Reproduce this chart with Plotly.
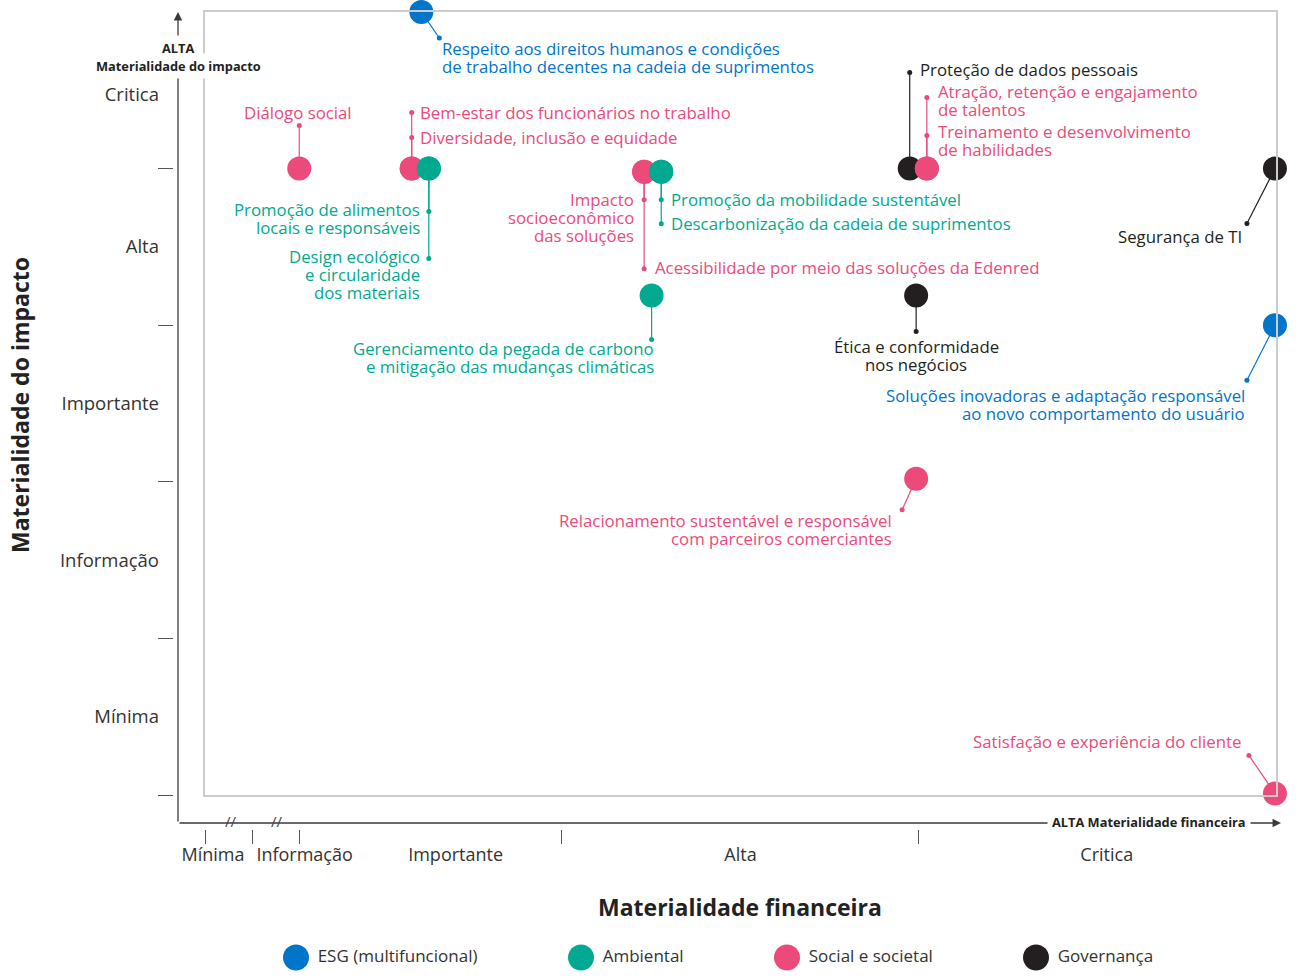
import plotly.graph_objects as go

# ---------------- data ----------------
topics = [
    "Respeito aos direitos humanos e condições<br>de trabalho decentes na cadeia de suprimentos",
    "Diálogo social",
    "Bem-estar dos funcionários no trabalho",
    "Diversidade, inclusão e equidade",
    "Promoção de alimentos<br>locais e responsáveis",
    "Design ecológico<br>e circularidade<br>dos materiais",
    "Impacto<br>socioeconômico<br>das soluções",
    "Acessibilidade por meio das soluções da Edenred",
    "Promoção da mobilidade sustentável",
    "Descarbonização da cadeia de suprimentos",
    "Gerenciamento da pegada de carbono<br>e mitigação das mudanças climáticas",
    "Proteção de dados pessoais",
    "Atração, retenção e engajamento<br>de talentos",
    "Treinamento e desenvolvimento<br>de habilidades",
    "Segurança de TI",
    "Ética e conformidade<br>nos negócios",
    "Soluções inovadoras e adaptação responsável<br>ao novo comportamento do usuário",
    "Relacionamento sustentável e responsável<br>com parceiros comerciantes",
    "Satisfação e experiência do cliente",
]
categories = [
    "ESG (multifuncional)", "Social e societal", "Social e societal", "Social e societal",
    "Ambiental", "Ambiental", "Social e societal", "Social e societal",
    "Ambiental", "Ambiental", "Ambiental", "Governança",
    "Social e societal", "Social e societal", "Governança", "Governança",
    "ESG (multifuncional)", "Social e societal", "Social e societal",
]
financial = [20.2, 8.8, 19.3, 19.3, 20.9, 20.9, 41.0, 41.0, 42.6, 42.6, 41.7,
             65.8, 67.4, 67.4, 99.9, 66.4, 99.9, 66.4, 99.9]
impact = [5.0, 4.0, 4.0, 4.0, 4.0, 4.0, 3.98, 3.98, 3.98, 3.98, 3.19,
          4.0, 4.0, 4.0, 4.0, 3.19, 3.0, 2.02, 0.01]

legend_order = ["ESG (multifuncional)", "Ambiental", "Social e societal", "Governança"]
impact_levels = ["Mínima", "Informação", "Importante", "Alta", "Critica"]
impact_level_pos = [0.5, 1.5, 2.5, 3.5, 4.47]
impact_bounds = [0, 1, 2, 3, 4]
fin_levels = ["Mínima", "Informação", "Importante", "Alta", "Critica"]
fin_level_pos = [0.75, 9.3, 23.4, 50.0, 84.2]
fin_bounds = [0, 4.4, 8.8, 33.3, 66.6]

# ---------------- styles / layout ----------------
colors = {
    "ESG (multifuncional)": "#0075C9",
    "Ambiental": "#00A98F",
    "Social e societal": "#EB4A7B",
    "Governança": "#231F20",
}
draw_order = ["Governança", "Social e societal", "Ambiental", "ESG (multifuncional)"]

W, H = 1300, 978
X0, X1, Y0, Y1 = 205, 1276, 12, 795   # plot box in pixels
XPX = (X1 - X0) / 100.0
YPX = (Y1 - Y0) / 5.0
FONT = "Open Sans"

def px(x):
    return x / W

def py(y):
    return 1 - y / H

# callout layout (pixel offsets from the circle centre; +dy = down)
callout_dot = [(18, 26), (0, -43), (0, -56), (0, -31), (0, 43), (0, 90), (0, 28), (0, 97),
               (0, 28), (0, 52), (0, 44), (0, -96), (0, -71), (0, -33), (-28, 55), (0, 36),
               (-28, 55), (-14, 31), (-26, -38)]
callout_text = [(20, 36, "left"), (-1, -56, "center"), (7, -56, "left"), (7, -31, "left"),
                (-8, 41, "right"), (-8, 88, "right"), (-9, 28, "right"), (10, 96, "left"),
                (9, 28, "left"), (9, 52, "left"), (3, 53, "right"), (9, -99, "left"),
                (10, -77, "left"), (10, -37, "left"), (-32, 68, "right"), (0, 51, "center"),
                (-29, 70, "right"), (-23, 42, "right"), (-33, -52, "right")]
LINE_H = 18

fig = go.Figure()

# leader lines
for i in range(len(topics)):
    c = colors[categories[i]]
    dx, dy = callout_dot[i]
    xe = financial[i] + dx / XPX
    ye = impact[i] - dy / YPX
    fig.add_trace(go.Scatter(
        x=[financial[i], xe], y=[impact[i], ye], mode="lines",
        line=dict(color=c, width=1.2), hoverinfo="skip", showlegend=False,
        cliponaxis=False))
    fig.add_trace(go.Scatter(
        x=[xe], y=[ye], mode="markers", marker=dict(color=c, size=5),
        hoverinfo="skip", showlegend=False, cliponaxis=False))

# main circles
for cat in draw_order:
    idx = [i for i in range(len(topics)) if categories[i] == cat]
    fig.add_trace(go.Scatter(
        x=[financial[i] for i in idx], y=[impact[i] for i in idx],
        mode="markers", marker=dict(color=colors[cat], size=24, line=dict(width=0)),
        text=[topics[i].replace("<br>", " ") for i in idx], hoverinfo="text",
        name=cat, showlegend=False, cliponaxis=False))

annotations = []
# callout labels (one annotation per line)
for i in range(len(topics)):
    c = colors[categories[i]]
    tx, ty, al = callout_text[i]
    for k, line in enumerate(topics[i].split("<br>")):
        annotations.append(dict(
            x=financial[i], y=impact[i], xref="x", yref="y", text=line,
            showarrow=False, xanchor=al, yanchor="middle", align=al,
            xshift=tx, yshift=-(ty + k * LINE_H), borderpad=0,
            font=dict(family=FONT, size=16.8, color=c)))

# legend row (separate small subplot)
legend_x = [296, 581, 787, 1036]
fig.add_trace(go.Scatter(
    x=legend_x, y=[0] * 4, xaxis="x3", yaxis="y3", mode="markers+text",
    marker=dict(color=[colors[c] for c in legend_order], size=26),
    text=[" " + t for t in legend_order], textposition="middle right",
    textfont=dict(family=FONT, size=17, color="#333333"),
    hoverinfo="skip", showlegend=False, cliponaxis=False))

# axis arrows
AX = "#3a3a3a"
annotations.append(dict(x=px(178), y=py(12), xref="paper", yref="paper", text="",
                        showarrow=True, ax=0, ay=811, arrowhead=2, arrowsize=1.3,
                        arrowwidth=1.3, arrowcolor=AX))
annotations.append(dict(x=px(1281), y=py(823), xref="paper", yref="paper", text="",
                        showarrow=True, ax=-1103, ay=0, arrowhead=2, arrowsize=1.3,
                        arrowwidth=1.3, arrowcolor=AX))

def label(x, y, text, size, **kw):
    d = dict(x=px(x), y=py(y), xref="paper", yref="paper", text=text,
             showarrow=False, xanchor="center", yanchor="middle",
             font=dict(family=FONT, size=size, color="#222222"))
    d.update(kw)
    return d

# arrow labels
annotations.append(label(178, 48, "<b>ALTA</b>", 12.8, bgcolor="white", borderpad=3))
annotations.append(label(178, 66, "<b>Materialidade do impacto</b>", 12.8,
                         bgcolor="white", borderpad=3))
annotations.append(label(1149, 822, "<b>ALTA Materialidade financeira</b>", 12.8,
                         bgcolor="white", borderpad=4))
# axis break marks
for bx in [231, 277]:
    annotations.append(label(bx, 821, "//", 15, font=dict(family=FONT, size=15, color="#444")))
# axis titles
annotations.append(label(20, 405, "<b>Materialidade do impacto</b>", 23, textangle=-90))
annotations.append(label(740, 907, "<b>Materialidade financeira</b>", 23))

box = dict(showline=True, mirror=True, linecolor="#cccccc", linewidth=1.5,
           showgrid=False, zeroline=False, showticklabels=False, ticks="")

fig.update_layout(
    width=W, height=H,
    margin=dict(l=0, r=0, t=0, b=0, autoexpand=False),
    paper_bgcolor="white", plot_bgcolor="white",
    font=dict(family=FONT, color="#333333"),
    showlegend=False,
    xaxis=dict(domain=[px(X0), px(X1)], range=[0, 100], anchor="y", **box),
    yaxis=dict(domain=[py(Y1), py(Y0)], range=[0, 5], anchor="x", **box),
    xaxis2=dict(overlaying="x", anchor="free", position=py(829), side="bottom",
                range=[0, 100], showgrid=False, zeroline=False, showline=False,
                tickmode="array", tickvals=fin_level_pos, ticktext=fin_levels,
                ticks="", ticklabelstandoff=13,
                tickfont=dict(family=FONT, size=18, color="#333333"),
                minor=dict(tickmode="array", tickvals=fin_bounds, ticks="outside",
                           ticklen=14, tickwidth=1.2, tickcolor="#555555", showgrid=False)),
    yaxis2=dict(overlaying="y", anchor="free", position=px(173), side="left",
                range=[0, 5], showgrid=False, zeroline=False, showline=False,
                tickmode="array", tickvals=impact_level_pos, ticktext=impact_levels,
                ticks="", ticklabelstandoff=14,
                tickfont=dict(family=FONT, size=18.5, color="#333333"),
                minor=dict(tickmode="array", tickvals=impact_bounds, ticks="outside",
                           ticklen=15, tickwidth=1.2, tickcolor="#555555", showgrid=False)),
    xaxis3=dict(domain=[0, 1], range=[0, W], anchor="y3", visible=False),
    yaxis3=dict(domain=[py(975), py(940)], range=[-1, 1], anchor="x3", visible=False),
    annotations=annotations,
)
# dummy trace so x2/y2 render
fig.add_trace(go.Scatter(x=[None], y=[None], xaxis="x2", yaxis="y2", showlegend=False))

fig.write_html("out.html", config={"displayModeBar": False},
               post_script="document.body.style.margin='0';")
